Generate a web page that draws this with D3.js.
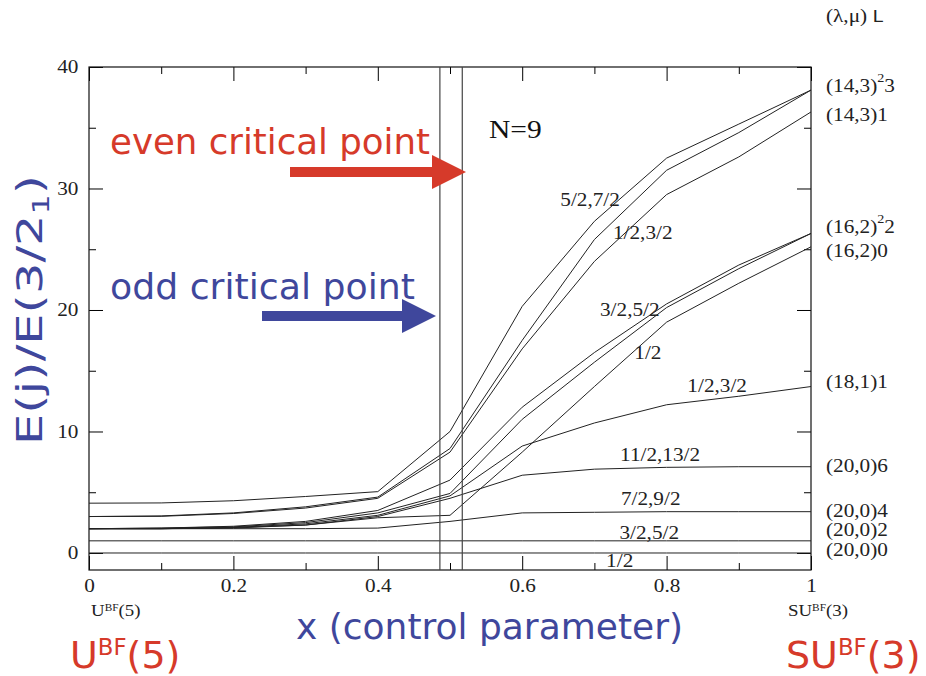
<!DOCTYPE html>
<html><head><meta charset="utf-8">
<script src="https://cdn.jsdelivr.net/npm/d3@7/dist/d3.min.js"></script>
<style>
html,body{margin:0;padding:0;background:#fff;}
svg{display:block;}
</style></head>
<body>
<svg id="chart" width="926" height="676"></svg>
<script>
// ---- data ----
const xGrid = [0, 0.1, 0.2, 0.3, 0.4, 0.5, 0.6, 0.7, 0.8, 0.9, 1.0];
const lineA = [4.1, 4.12, 4.3, 4.65, 5.05, 10.0, 20.3, 27.3, 32.5, 35.3, 38.1];
const lineB = [3.0, 3.05, 3.3, 3.8, 4.6, 8.6, 17.5, 25.8, 31.5, 34.6, 38.1];
const lineC = [3.0, 3.02, 3.25, 3.7, 4.5, 8.3, 16.8, 24.0, 29.5, 32.6, 36.3];
const lineD = [2.0, 2.05, 2.2, 2.6, 3.5, 6.0, 12.0, 16.5, 20.5, 23.7, 26.3];
const lineE = [2.0, 2.05, 2.15, 2.5, 3.3, 4.9, 11.0, 15.7, 20.2, 23.4, 26.3];
const lineF = [2.0, 2.0, 2.05, 2.3, 2.9, 3.1, 8.3, 13.7, 19.0, 22.2, 25.2];
const lineG = [2.0, 2.0, 2.1, 2.4, 3.1, 4.7, 8.8, 10.7, 12.2, 12.9, 13.7];
const lineH = [2.0, 2.0, 2.1, 2.3, 3.0, 4.5, 6.4, 6.9, 7.05, 7.1, 7.1];
const line72 = [2.0, 2.0, 2.0, 2.0, 2.05, 2.6, 3.3, 3.35, 3.4, 3.4, 3.4];
const line32 = [1.0, 1.0, 1.0, 1.0, 1.0, 1.0, 1.0, 1.0, 1.0, 1.0, 1.0];
const line12 = [0, 0, 0, 0, 0, 0, 0, 0, 0, 0, 0];
const allLines = [lineA, lineB, lineC, lineD, lineE, lineF, lineG, lineH, line72, line32, line12];

const criticalX = [0.486, 0.517];

const jLabels = ["5/2,7/2", "1/2,3/2", "3/2,5/2", "1/2", "1/2,3/2", "11/2,13/2", "7/2,9/2", "3/2,5/2", "1/2"];
const jLabelX = [0.694, 0.767, 0.749, 0.774, 0.870, 0.791, 0.778, 0.776, 0.735];
const jLabelY = [29.05, 26.4, 20.0, 16.5, 13.8, 8.07, 4.5, 1.7, -0.6];

// SU(3) labels: [base, superscript, tail]
const su3Labels = [["(14,3)","2","3"],["(14,3)","","1"],["(16,2)","2","2"],["(16,2)","","0"],["(18,1)","","1"],["(20,0)","","6"],["(20,0)","","4"],["(20,0)","","2"],["(20,0)","","0"]];
const su3LabelY = [38.5, 36.1, 26.9, 24.9, 14.1, 7.2, 3.5, 1.9, 0.25];

const xMajor = [0, 0.2, 0.4, 0.6, 0.8, 1];
const xMinor = [0.1, 0.3, 0.5, 0.7, 0.9];
const yMajor = [0, 10, 20, 30, 40];
const yMinor = [5, 15, 25, 35];

// ---- layout ----
const svg = d3.select("#chart");
const L = 89, R = 811, T = 67, B = 570;
const x = d3.scaleLinear().domain([0, 1]).range([L, R]);
const y = d3.scaleLinear().domain([-1.4, 40]).range([B, T]);
const serif = "'Liberation Serif','DejaVu Serif',serif";
const comic = "'Comic Sans MS','DejaVu Sans',sans-serif";
const red = "#d63a2a", blue = "#3f479c";
const SX = 1.18; // horizontal stretch of the serif texts in the original figure
const serifSize = 18;

// axes with inward ticks
function addAxis(axisFn, scale, vals, size, transform, showLabels) {
  const ax = axisFn(scale).tickValues(vals).tickSizeInner(-size).tickSizeOuter(0)
    .tickFormat(showLabels ? d3.format("") : "");
  const g = svg.append("g").attr("transform", transform).call(ax);
  g.select(".domain").remove();
  g.selectAll("line").attr("stroke", "#000").attr("stroke-width", 1);
  g.selectAll("text").attr("font-family", serif).attr("font-size", serifSize).attr("fill", "#222");
  return g;
}
const gxb = addAxis(d3.axisBottom, x, xMajor, 14, `translate(0,${B})`, true);
gxb.selectAll("text").attr("dy", "1.05em").attr("transform", `scale(${SX},1)`);
addAxis(d3.axisBottom, x, xMinor, 7, `translate(0,${B})`, false);
addAxis(d3.axisTop, x, xMajor, 14, `translate(0,${T})`, false);
addAxis(d3.axisTop, x, xMinor, 7, `translate(0,${T})`, false);
const gyl = addAxis(d3.axisLeft, y, yMajor, 14, `translate(${L},0)`, true);
gyl.selectAll("text").attr("x", -9).attr("transform", `scale(${SX},1)`);
addAxis(d3.axisLeft, y, yMinor, 7, `translate(${L},0)`, false);
addAxis(d3.axisRight, y, yMajor, 14, `translate(${R},0)`, false);
addAxis(d3.axisRight, y, yMinor, 7, `translate(${R},0)`, false);

// frame
svg.append("rect").attr("x", L).attr("y", T).attr("width", R - L).attr("height", B - T)
  .attr("fill", "none").attr("stroke", "#111").attr("stroke-width", 1.2);

// lines
const lineGen = d3.line().x((d, i) => x(xGrid[i])).y(d => y(d));
svg.append("g").selectAll("path").data(allLines).join("path")
  .attr("d", lineGen).attr("fill", "none").attr("stroke", "#222").attr("stroke-width", 1);

// critical point vertical lines
svg.append("g").selectAll("line").data(criticalX).join("line")
  .attr("x1", d => x(d)).attr("x2", d => x(d)).attr("y1", T).attr("y2", B)
  .attr("stroke", "#444").attr("stroke-width", 1.2);

// j labels
svg.append("g").selectAll("text").data(jLabels).join("text")
  .attr("transform", (d, i) => `translate(${x(jLabelX[i])},${y(jLabelY[i])}) scale(${SX},1)`)
  .attr("text-anchor", "middle").attr("dominant-baseline", "central")
  .attr("font-family", serif).attr("font-size", serifSize).attr("fill", "#222").text(d => d);

// SU(3) labels
const su = svg.append("g").selectAll("text").data(su3Labels).join("text")
  .attr("transform", (d, i) => `translate(826,${y(su3LabelY[i])}) scale(${SX},1)`)
  .attr("dominant-baseline", "central")
  .attr("font-family", serif).attr("font-size", serifSize).attr("fill", "#222");
su.append("tspan").text(d => d[0]);
su.append("tspan").attr("font-size", 12).attr("dy", d => d[1] ? -8 : 0).text(d => d[1]);
su.append("tspan").attr("dy", d => d[1] ? 8 : 0).text(d => d[2]);

const lm = svg.append("text").attr("transform", `translate(826,22) scale(${SX},1)`)
  .attr("font-family", serif).attr("font-size", serifSize).attr("fill", "#222");
lm.append("tspan").text("(λ,μ) ");
lm.append("tspan").attr("font-family", "'DejaVu Sans',sans-serif").attr("font-size", 16).text("L");

// N=9
svg.append("text").attr("transform", `translate(489,138) scale(${SX},1)`).attr("font-family", serif)
  .attr("font-size", 25).attr("fill", "#111").text("N=9");

// bottom limit labels
function limitLabel(x0, y0, base, sup, tail, size, color, fam, sx) {
  const t = svg.append("text").attr("transform", `translate(${x0},${y0}) scale(${sx},1)`)
    .attr("font-family", fam).attr("font-size", size).attr("fill", color);
  t.append("tspan").text(base);
  t.append("tspan").attr("font-size", size * 0.6).attr("dy", -size * 0.33).text(sup);
  t.append("tspan").attr("dy", size * 0.33).text(tail);
}
limitLabel(91, 616, "U", "BF", "(5)", 16, "#222", serif, SX);
limitLabel(788, 616, "SU", "BF", "(3)", 16, "#222", serif, SX);
limitLabel(70, 668, "U", "BF", "(5)", 38, red, comic, 1);
limitLabel(786, 668, "SU", "BF", "(3)", 38, red, comic, 1);

// axis titles
svg.append("text").attr("x", 296).attr("y", 639)
  .attr("textLength", 387).attr("lengthAdjust", "spacingAndGlyphs")
  .attr("font-family", comic).attr("font-size", 35).attr("fill", blue).text("x (control parameter)");
const yt = svg.append("text").attr("transform", "translate(42,445) rotate(-90)")
  .attr("font-family", comic).attr("font-size", 36).attr("fill", blue)
  .attr("textLength", 270).attr("lengthAdjust", "spacingAndGlyphs");
yt.append("tspan").text("E(j)/E(3/2");
yt.append("tspan").attr("font-size", 23).attr("dy", 7).text("1");
yt.append("tspan").attr("dy", -7).text(")");

// annotations with arrows
svg.append("text").attr("x", 110).attr("y", 154).attr("font-family", comic)
  .attr("textLength", 320).attr("lengthAdjust", "spacingAndGlyphs")
  .attr("font-size", 35).attr("fill", red).text("even critical point");
svg.append("text").attr("x", 110).attr("y", 299).attr("font-family", comic)
  .attr("textLength", 305).attr("lengthAdjust", "spacingAndGlyphs")
  .attr("font-size", 35).attr("fill", blue).text("odd critical point");

function arrow(x1, x2, yy, color) {
  svg.append("line").attr("x1", x1).attr("x2", x2 - 32).attr("y1", yy).attr("y2", yy)
    .attr("stroke", color).attr("stroke-width", 10);
  svg.append("path").attr("d", `M${x2 - 34},${yy - 17} L${x2},${yy} L${x2 - 34},${yy + 17} Z`)
    .attr("fill", color);
}
arrow(290, 466, 172, red);
arrow(262, 436, 316, blue);
</script>
</body></html>
